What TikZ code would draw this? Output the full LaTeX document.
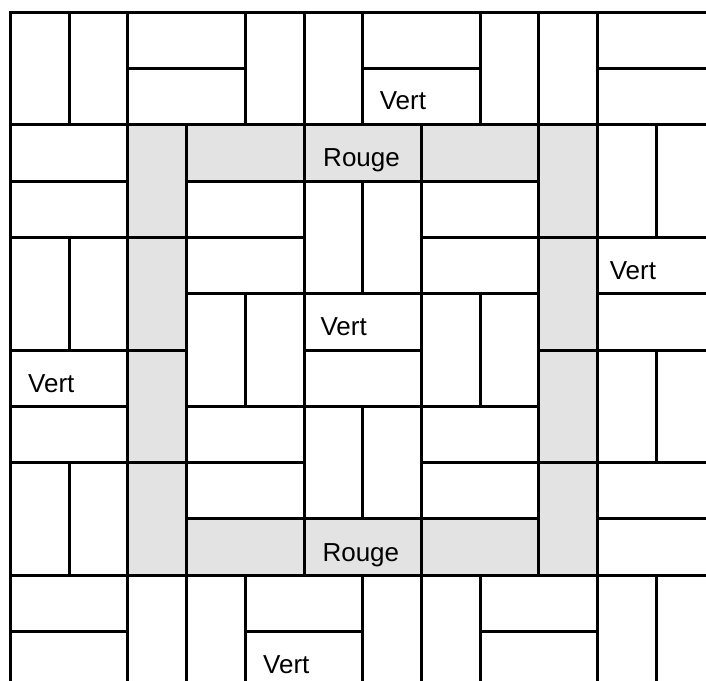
\documentclass[tikz,border=0pt]{standalone}
\usepackage{fontspec}
\setmainfont{Liberation Sans}
\usepackage{tikz}
\usepackage{xcolor}
\definecolor{ringgray}{RGB}{227,227,227}
\definecolor{tileline}{RGB}{0,0,0}

\begin{document}
\begin{tikzpicture}[x=58.7pt,y=-56.3pt,line width=3pt,
    every node/.style={font=\fontsize{26}{30}\selectfont,inner sep=0pt,anchor=base west}]
  \clip (-0.179,-0.218) rectangle (11.848,11.877);
  % standing tiles (1x2)
  \foreach \c/\r in {0/0,1/0,4/0,5/0,8/0,9/0,
      5/3,6/3,10/2,11/2,0/4,1/4,3/5,4/5,7/5,8/5,
      5/7,6/7,10/6,11/6,0/8,1/8,
      2/10,3/10,6/10,7/10,10/10,11/10}{
    \draw[tileline,fill=white](\c,\r)rectangle(\c+1,\r+2);
  }
  % lying tiles (2x1)
  \foreach \c/\r in {2/0,2/1,6/0,6/1,10/0,10/1,
      0/2,0/3,3/3,7/3,3/4,7/4,10/4,10/5,5/5,
      0/6,0/7,5/6,3/7,7/7,3/8,7/8,10/8,10/9,
      0/10,0/11,4/10,4/11,8/10,8/11}{
    \draw[tileline,fill=white](\c,\r)rectangle(\c+2,\r+1);
  }
  % grey ring
  \foreach \c/\r/\w/\h in {2/2/1/2,2/4/1/2,2/6/1/2,2/8/1/2,
      9/2/1/2,9/4/1/2,9/6/1/2,9/8/1/2,
      3/2/2/1,5/2/2/1,7/2/2/1,3/9/2/1,5/9/2/1,7/9/2/1}{
    \draw[tileline,fill=ringgray](\c,\r)rectangle(\c+\w,\r+\h);
  }
  \node (vertA) at (6.266,1.723) {Vert};
  \node (rougeT) at (5.302,2.742) {Rouge};
  \node (vertB) at (10.184,4.742) {Vert};
  \node (vertC) at (5.256,5.737) {Vert};
  \node (vertD) at (0.276,6.750) {Vert};
  \node (rougeB) at (5.290,9.755) {Rouge};
  \node (vertE) at (4.279,11.741) {Vert};
\end{tikzpicture}
\end{document}
